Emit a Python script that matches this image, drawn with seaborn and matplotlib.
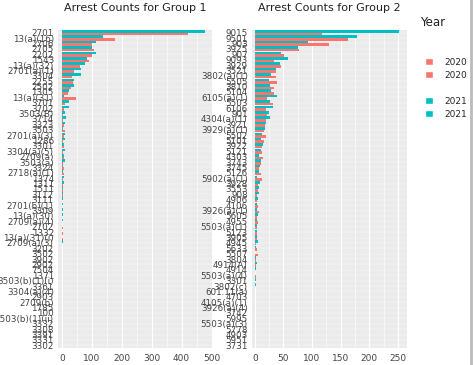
import pandas as pd
import seaborn as sns
import matplotlib.pyplot as plt
from matplotlib.patches import Patch
from matplotlib.lines import Line2D

# %%
g1_codes = ['2701', '13(a)(16)', '2706', '2705', '2202', '1543', '13(a)(32)', '2701(a)(1)',
            '3304', '2255', '2502', '1305', '13(a)(31)', '3701', '3702', '3503(B)', '3714',
            '3323', '3503', '2701(a)(3)', '1286', '3301', '3304(a)(5)', '2709(a)', '3503(a)',
            '3324', '2718(a)(1)', '1374', '1311', '1511', '3112', '3111', '2701(b)(1)', '3309',
            '13(a)(30)', '2709(a)(4)', '2702', '1332', '13(a)(31)(i)', '2709(a)(3)', '3202',
            '3502', '3902', '2902', '7504', '1371', '3503(b)(1)(i)', '3361', '3304(a)(4)',
            '2903', '2709(b)', '1785', '100', '3503(b)(1)(ii)', '3332', '3308', '3391', '3331',
            '3302']
g1_2020 = [422, 178, 100, 108, 100, 91, 60, 40, 33, 36, 30, 22, 47, 11, 8, 5, 4,
           6, 10, 8, 4, 6, 5, 8, 4, 7, 6, 4, 3, 4, 3, 2, 2, 1, 2, 1, 3, 3, 3, 1, 2,
           2, 2, 2, 2, 1, 1, 1, 1, 0, 1, 1, 0, 1, 0, 1, 0, 0, 1]
g1_2021 = [478, 137, 113, 102, 113, 83, 76, 63, 64, 41, 42, 24, 6, 24, 24, 12, 14,
           12, 5, 10, 11, 8, 9, 6, 9, 5, 5, 6, 6, 4, 5, 5, 4, 5, 4, 4, 1, 1, 1, 3, 1,
           1, 1, 0, 1, 1, 1, 1, 1, 1, 1, 0, 1, 0, 1, 0, 1, 1, 0]

g2_codes = ['9015', '9501', '903', '3925', '907', '9093', '3929', '3521', '3802(a)(1)',
            '5505', '3810', '5104', '6105(a)(1)', '5503', '6106', '901', '4304(a)(1)',
            '3921', '3929(a)(1)', '5502', '5101', '3922', '5121', '4303', '3743', '3745',
            '5126', '5902(a)(1)', '3928', '3553', '908', '4906', '4106', '3926(a)(1)',
            '5605', '4955', '5503(a)(1)', '5123', '3905', '4945', '5633', '5507', '3804',
            '4914(A)', '4914', '5503(a)(4)', '3301', '3802(c)', '601.11(a)', '4703',
            '4105(a)(1)', '3926(a)(4)', '3742', '5995', '5503(a)(3)', '5778', '4903',
            '5951', '3731']
g2_2020 = [117, 162, 129, 78, 51, 34, 46, 37, 37, 39, 34, 34, 22, 32, 20, 22, 20,
           18, 16, 20, 16, 12, 12, 14, 10, 8, 10, 12, 6, 5, 4, 4, 6, 8, 4, 5, 4, 3,
           3, 2, 3, 5, 2, 2, 1, 2, 1, 1, 1, 1, 1, 1, 1, 0, 1, 0, 1, 0, 1]
g2_2021 = [252, 178, 93, 76, 45, 58, 44, 37, 28, 25, 27, 28, 39, 27, 32, 24, 26,
           20, 18, 12, 10, 14, 10, 8, 10, 9, 7, 4, 9, 7, 8, 5, 3, 4, 6, 3, 3, 4,
           3, 5, 2, 1, 2, 3, 2, 1, 2, 2, 1, 1, 0, 0, 0, 1, 0, 1, 0, 1, 0]

titles = ['Arrest Counts for Group 1', 'Arrest Counts for Group 2']
colors = {'2020': '#F8766D', '2021': '#00BFC4'}
# %%
def long_df(codes, v20, v21):
    return pd.DataFrame({
        'code': codes * 2,
        'Year': ['2020'] * len(codes) + ['2021'] * len(codes),
        'count': v20 + v21,
    })

df1 = long_df(g1_codes, g1_2020, g1_2021)
df2 = long_df(g2_codes, g2_2020, g2_2021)

sns.set_style('white')
fig = plt.figure(figsize=(4.74, 3.65), dpi=100)

H = 365
W = 474
panels = [
    (df1, g1_codes, (58, 213), (-13, 505), [0, 100, 200, 300, 400, 500]),
    (df2, g2_codes, (252, 407), (-5, 266), [0, 50, 100, 150, 200, 250]),
]

for i, (df, codes, (x0, x1), xlim, ticks) in enumerate(panels):
    ax = fig.add_axes([x0 / W, (H - 348) / H, (x1 - x0) / W, (348 - 30) / H])
    ax.set_facecolor('#EBEBEB')
    sns.barplot(
        data=df, x='count', y='code', hue='Year',
        order=codes, hue_order=['2021', '2020'], palette=colors,
        orient='h', width=0.96, ax=ax, legend=False, saturation=1,
        linewidth=0,
    )
    ax.set_xlim(*xlim)
    ax.set_xticks(ticks)
    ax.set_xticks([t + (ticks[1] - ticks[0]) / 2 for t in ticks[:-1]], minor=True)
    ax.grid(axis='x', which='major', color='white', linewidth=0.8)
    ax.grid(axis='x', which='minor', color='white', linewidth=0.4)
    ax.grid(axis='y', color='white', linewidth=0.25)
    ax.set_axisbelow(True)
    ax.set_xlabel('')
    ax.set_ylabel('')
    for s in ax.spines.values():
        s.set_visible(False)
    ax.tick_params(axis='y', labelsize=6.3, colors='#444444', length=2, pad=1,
                   width=0.5)
    ax.tick_params(axis='x', labelsize=6.5, colors='#444444', length=2, pad=2,
                   width=0.5)
    ax.tick_params(axis='x', which='minor', length=0)
    ax.set_title(titles[i], fontsize=8, color='#222222', pad=14)

# legend
fig.text(420 / W, 1 - 22 / H, 'Year', fontsize=8.5, color='#222222', va='center')
p20 = Patch(facecolor=colors['2020'])
p21 = Patch(facecolor=colors['2021'])
blank = Line2D([], [], linestyle='none')
fig.legend(handles=[p20, p20, blank, p21, p21],
           labels=['2020', '2020', '', '2021', '2021'],
           loc='upper left', bbox_to_anchor=(421 / W, 1 - 54 / H),
           frameon=False, fontsize=6.5, handlelength=0.9, handleheight=0.9,
           labelspacing=0.45, handletextpad=1.3, borderaxespad=0)

fig.add_artist(Line2D([471 / W, 471 / W], [0, 1], color='#BBBBBB', linewidth=2))

plt.savefig('out.png', dpi=100)
